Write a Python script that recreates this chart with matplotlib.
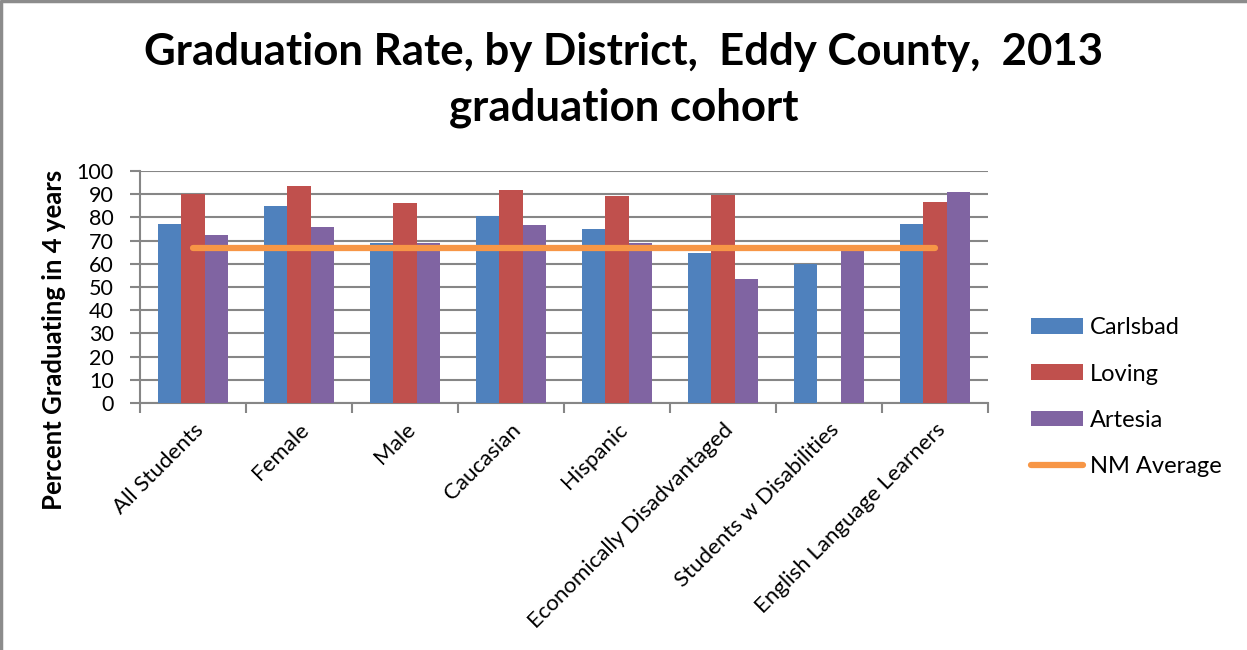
import numpy as np
import matplotlib
matplotlib.use("Agg")
import matplotlib.pyplot as plt
from matplotlib.lines import Line2D
from matplotlib.transforms import ScaledTranslation

plt.rcParams['font.family'] = ['Lato', 'DejaVu Sans']

categories = ["All Students", "Female", "Male", "Caucasian", "Hispanic",
              "Economically Disadvantaged", "Students w Disabilities",
              "English Language Learners"]
carlsbad = [77, 85, 69, 80.5, 75, 64.7, 60, 77.3]
loving = [90, 93.3, 86.3, 92, 89, 89.8, 0, 86.8]
artesia = [72.5, 76, 69, 76.8, 69, 53.4, 66, 91]
nm_average = [67, 67, 67, 67, 67, 67, 67, 67]

fig = plt.figure(figsize=(12.47, 6.5), dpi=100)
ax = fig.add_axes([0.1123, 0.38, 0.68, 0.357])

x = np.arange(len(categories))
w = 1 / 4.5
b1 = ax.bar(x - w, carlsbad, w, color='#4F81BD', label='Carlsbad', zorder=3)
b2 = ax.bar(x, loving, w, color='#C0504D', label='Loving', zorder=3)
b3 = ax.bar(x + w, artesia, w, color='#8064A2', label='Artesia', zorder=3)
ln, = ax.plot(x, nm_average, color='#F79646', lw=4.5, solid_capstyle='round',
              label='NM Average', zorder=4)

ax.set_xlim(-0.5, len(categories) - 0.5)
ax.set_ylim(0, 100)
ax.set_yticks(range(0, 101, 10))
ax.yaxis.grid(True, color='#868686', lw=1.5, zorder=0)
ax.set_xticks(x)
ax.set_xticklabels(categories, rotation=45, ha='right', va='top',
                   rotation_mode='anchor', fontsize=16)
shift = ScaledTranslation(-6 / 100, 0, fig.dpi_scale_trans)
for lab in ax.get_xticklabels():
    lab.set_transform(lab.get_transform() + shift)
ax.set_xticks(np.arange(-0.5, len(categories)), minor=True)
ax.tick_params(axis='x', which='major', length=0, pad=12)
ax.tick_params(axis='x', which='minor', length=7, color='#868686', width=1.5)
ax.tick_params(axis='y', length=7, color='#868686', width=1.5, labelsize=15.5, pad=12)
for s in ['top', 'right']:
    ax.spines[s].set_visible(False)
for s in ['left', 'bottom']:
    ax.spines[s].set_color('#868686')
    ax.spines[s].set_linewidth(1.5)

fig.text(0.0433, 0.477, "Percent Graduating in 4 years", rotation=90,
         ha='center', va='center', fontsize=18.5, fontweight='bold')

fig.text(0.5, 0.877, "Graduation Rate, by District,  Eddy County,  2013\ngraduation cohort",
         ha='center', va='center', fontsize=31.5, fontweight='bold', linespacing=1.45)

leg = fig.legend([b1, b2, b3, ln], ['Carlsbad', 'Loving', 'Artesia', 'NM Average'],
                 loc='center left', bbox_to_anchor=(0.81, 0.389), frameon=False,
                 fontsize=17, handlelength=2.2, handleheight=0.65, labelspacing=1.07,
                 handletextpad=0.3)

fig.add_artist(Line2D([0.001, 0.001, 1], [0, 0.998, 0.998], transform=fig.transFigure,
                      color='#8c8c8c', lw=2.5))

fig.savefig("out.png", dpi=100)
